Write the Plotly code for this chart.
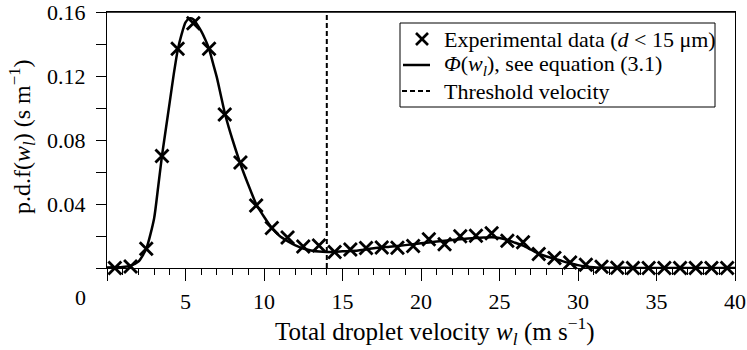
import plotly.graph_objects as go

# ---- data ----
exp_x = [0.5, 1.5, 2.5, 3.5, 4.5, 5.5, 6.5, 7.5, 8.5, 9.5,
         10.5, 11.5, 12.5, 13.5, 14.5, 15.5, 16.5, 17.5, 18.5, 19.5,
         20.5, 21.5, 22.5, 23.5, 24.5, 25.5, 26.5, 27.5, 28.5, 29.5,
         30.5, 31.5, 32.5, 33.5, 34.5, 35.5, 36.5, 37.5, 38.5, 39.5]
exp_y = [0.0, 0.001, 0.012, 0.070, 0.137, 0.153, 0.137, 0.096, 0.066, 0.039,
         0.025, 0.019, 0.0135, 0.014, 0.010, 0.0115, 0.0125, 0.0128, 0.0127, 0.0137,
         0.018, 0.0148, 0.0199, 0.0202, 0.0217, 0.017, 0.0161, 0.0088, 0.0063, 0.0034,
         0.002, 0.0008, 0.0002, 0.0, 0.0, 0.0, 0.0, 0.0, 0.0, 0.0]

fit_x = [0, 0.5, 1, 1.5, 2, 2.5, 3, 3.25, 3.5, 3.75, 4, 4.25, 4.5, 4.75, 5, 5.25,
         5.5, 5.75, 6, 6.25, 6.5, 6.75, 7, 7.25, 7.5, 7.75, 8, 8.5, 9, 9.5, 10,
         10.5, 11, 11.5, 12, 12.5, 13, 13.5, 14, 14.5, 15, 16, 17, 18, 19, 20,
         21, 22, 23, 24, 24.5, 25, 25.5, 26, 26.5, 27, 27.5, 28, 28.5, 29, 29.5,
         30, 30.5, 31, 32, 33, 34, 36, 38, 40]
fit_y = [0.0003, 0.0004, 0.0006, 0.0015, 0.004, 0.012, 0.031, 0.050, 0.070, 0.087,
         0.104, 0.121, 0.136, 0.146, 0.1535, 0.156, 0.1555, 0.152, 0.148, 0.143,
         0.137, 0.128, 0.119, 0.108, 0.097, 0.088, 0.080, 0.065, 0.052, 0.040, 0.032,
         0.025, 0.020, 0.0168, 0.0142, 0.0122, 0.011, 0.0103, 0.010, 0.0101, 0.0104,
         0.011, 0.0123, 0.0133, 0.0143, 0.0155, 0.0165, 0.0175, 0.0184, 0.019, 0.0192,
         0.0188, 0.0176, 0.0158, 0.014, 0.0115, 0.009, 0.0072, 0.0058, 0.0043, 0.003,
         0.0018, 0.001, 0.0005, 0.0002, 0.0001, 0.0, 0.0, 0.0, 0.0]

threshold_x = [14, 14]
threshold_y = [0, 0.16]

x_tickvals = [0, 5, 10, 15, 20, 25, 30, 35, 40]
x_ticktext = ["", "5", "10", "15", "20", "25", "30", "35", "40"]
y_tickvals = [0, 0.02, 0.04, 0.06, 0.08, 0.10, 0.12, 0.14, 0.16]
y_ticktext = ["", "", "0.04", "", "0.08", "", "0.12", "", "0.16"]

legend_labels = ["Experimental data (<i>d</i> < 15 μm)",
                 "<i>Φ</i>(<i>w<sub>l</sub></i>), see equation (3.1)",
                 "Threshold velocity"]

FONT = "Liberation Serif"
W, H = 747, 350
ML, MR, MT, MB = 107, 12, 12, 82
PW, PH = W - ML - MR, H - MT - MB


def px(xp):
    return (xp - ML) / PW


def py(yp):
    return (H - MB - yp) / PH


fig = go.Figure()
fig.add_trace(go.Scatter(x=fit_x, y=fit_y, mode="lines",
                         line=dict(color="black", width=2.5, shape="spline", smoothing=0.6),
                         hoverinfo="skip"))
fig.add_trace(go.Scatter(x=threshold_x, y=threshold_y, mode="lines",
                         line=dict(color="black", width=2, dash="5px,3px")))
fig.add_trace(go.Scatter(x=exp_x, y=exp_y, mode="markers", cliponaxis=False,
                         marker=dict(symbol="x-thin", size=13, color="black",
                                     line=dict(color="black", width=2.8))))

fig.update_layout(
    width=W, height=H,
    margin=dict(l=ML, r=MR, t=MT, b=MB, autoexpand=False),
    plot_bgcolor="white", paper_bgcolor="white",
    showlegend=False,
    font=dict(family=FONT, size=22, color="black"),
)
fig.update_xaxes(range=[0, 40], tickmode="array", tickvals=x_tickvals, ticktext=x_ticktext,
                 ticks="outside", ticklen=12, tickwidth=1, tickcolor="black",
                 showline=True, linecolor="black", linewidth=1.2, mirror=True,
                 showgrid=False, zeroline=False, ticklabelstandoff=1, automargin=False,
                 ticklabeloverflow="allow", tickfont=dict(size=22),
                 minor=dict(tickmode="linear", tick0=0, dtick=1, ticks="outside",
                            ticklen=6, tickwidth=1, tickcolor="black", showgrid=False))
fig.update_yaxes(range=[0, 0.16], tickmode="array", tickvals=y_tickvals, ticktext=y_ticktext,
                 ticks="outside", ticklen=10, tickwidth=1, tickcolor="black",
                 showline=True, linecolor="black", linewidth=1.2, mirror=True,
                 showgrid=False, zeroline=False, ticklabelstandoff=6, automargin=False,
                 ticklabeloverflow="allow", tickfont=dict(size=22))

annotations = [
    dict(text="0", x=px(80), y=py(297), xref="paper", yref="paper",
         showarrow=False, xanchor="center", yanchor="middle", font=dict(size=22)),
    dict(text="Total droplet velocity <i>w<sub>l</sub></i> (m s<sup>−1</sup>)",
         x=px(435), y=py(331), xref="paper", yref="paper", showarrow=False,
         xanchor="center", yanchor="middle", font=dict(size=25)),
    dict(text="p.d.f(<i>w<sub>l</sub></i>) (s m<sup>−1</sup>)",
         x=px(22), y=py(137), xref="paper", yref="paper", showarrow=False,
         xanchor="center", yanchor="middle", textangle=-90, font=dict(size=24)),
]
row_y = [39, 65, 91]
for lab, ry in zip(legend_labels, row_y):
    annotations.append(dict(text=lab, x=px(442), y=py(ry), xref="paper", yref="paper",
                            showarrow=False, xanchor="left", yanchor="middle",
                            font=dict(size=22)))
fig.update_layout(annotations=annotations)

shapes = [
    # top frame edge
    dict(type="line", xref="paper", yref="paper", x0=0, x1=1, y0=1, y1=1,
         line=dict(color="black", width=1.6), layer="above"),
    # legend box
    dict(type="rect", xref="paper", yref="paper", x0=px(400), x1=px(715),
         y0=py(107), y1=py(23), line=dict(color="black", width=1), fillcolor="white",
         layer="above"),
    # X glyph
    dict(type="line", xref="paper", yref="paper", x0=px(416), x1=px(428),
         y0=py(33), y1=py(45), line=dict(color="black", width=2.6)),
    dict(type="line", xref="paper", yref="paper", x0=px(416), x1=px(428),
         y0=py(45), y1=py(33), line=dict(color="black", width=2.6)),
    # solid line glyph
    dict(type="line", xref="paper", yref="paper", x0=px(403), x1=px(430),
         y0=py(65), y1=py(65), line=dict(color="black", width=2.5)),
    # dashed line glyph
    dict(type="line", xref="paper", yref="paper", x0=px(402), x1=px(430),
         y0=py(91), y1=py(91), line=dict(color="black", width=2, dash="5px,3px")),
]
fig.update_layout(shapes=shapes)

fig.write_html("out.html")
